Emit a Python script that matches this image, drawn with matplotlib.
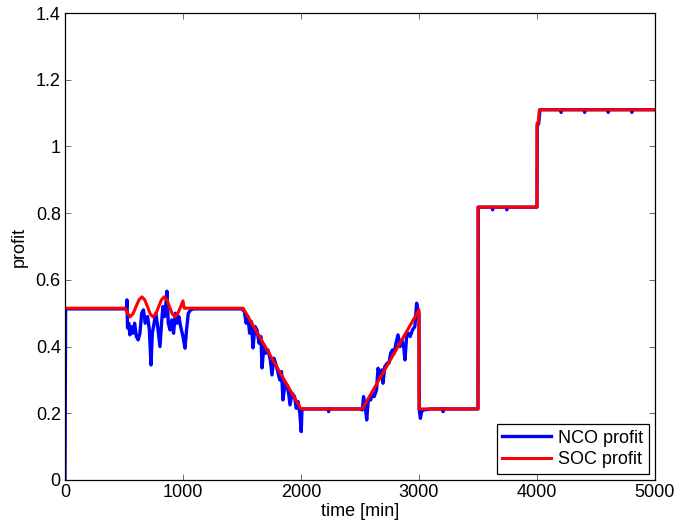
import matplotlib
matplotlib.use('Agg')
import matplotlib.pyplot as plt
import matplotlib.ticker as tck

# NCO profit (blue), sampled by hand off the reference
nco_time = [0, 5, 500, 520, 525, 530, 540, 550, 560, 575, 590, 605, 620, 635, 650,
            665, 680, 700, 715, 729, 740, 755, 770, 785, 805, 818, 830, 845, 864,
            875, 890, 905, 920, 935, 950, 965, 980, 1000, 1017, 1030, 1045, 1065, 1090,
            1500, 1520, 1535, 1550, 1565, 1580, 1593, 1610, 1627, 1645, 1660, 1670,
            1685, 1700, 1720, 1740, 1754, 1770, 1780, 1800, 1820, 1835, 1847, 1865,
            1880, 1895, 1907, 1925, 1945, 1960, 1975, 1990, 2002, 2008, 2015,
            2230, 2234, 2238, 2500, 2520, 2530, 2545, 2557, 2570, 2590, 2605, 2620, 2640,
            2653, 2670, 2685, 2695, 2710, 2730, 2745, 2760, 2775, 2790, 2805, 2822,
            2840, 2855, 2870, 2881, 2895, 2910, 2925, 2945, 2965, 2980, 2992, 3000,
            3002, 3012, 3022, 3040, 3100, 3200, 3204, 3208, 3500, 3502, 3620, 3624,
            3628, 3740, 3744, 3748, 3990, 4000, 4002, 4015, 4025, 4200, 4204, 4208,
            4400, 4404, 4408, 4600, 4604, 4608, 4800, 4804, 4808, 5000]
nco_profit = [0, 0.513, 0.513, 0.513, 0.54, 0.456, 0.47, 0.435, 0.46, 0.44, 0.47, 0.43,
              0.42, 0.44, 0.50, 0.51, 0.47, 0.49, 0.45, 0.345, 0.44, 0.47, 0.50, 0.46,
              0.40, 0.47, 0.52, 0.49, 0.566, 0.47, 0.45, 0.48, 0.44, 0.50, 0.47, 0.49,
              0.46, 0.43, 0.395, 0.45, 0.50, 0.51, 0.513,
              0.513, 0.505, 0.47, 0.49, 0.44, 0.475, 0.396, 0.46, 0.45, 0.41, 0.43,
              0.336, 0.40, 0.38, 0.39, 0.36, 0.315, 0.365, 0.355, 0.33, 0.30, 0.325,
              0.24, 0.29, 0.285, 0.26, 0.225, 0.26, 0.25, 0.215, 0.235, 0.20, 0.145,
              0.21, 0.213,
              0.213, 0.205, 0.213, 0.213, 0.21, 0.25, 0.22, 0.18, 0.24, 0.24, 0.26, 0.25,
              0.27, 0.335, 0.31, 0.33, 0.29, 0.34, 0.35, 0.35, 0.38, 0.39, 0.38, 0.41,
              0.435, 0.40, 0.42, 0.40, 0.36, 0.43, 0.44, 0.43, 0.45, 0.46, 0.53, 0.51,
              0.50, 0.21, 0.185, 0.205, 0.21, 0.213, 0.213, 0.205, 0.213, 0.213, 0.818,
              0.818, 0.81, 0.818, 0.818, 0.81, 0.818, 0.818, 0.818, 1.06, 1.07, 1.11,
              1.11, 1.102, 1.11, 1.11, 1.102, 1.11, 1.11, 1.102, 1.11, 1.11, 1.102,
              1.11, 1.11]

# SOC profit (red)
soc_time = [0, 508, 530, 551, 576, 601, 627, 652, 676, 700, 722, 745, 770, 793, 817,
            840, 863, 886, 909, 932, 955, 975, 1000, 1010, 1510, 2000, 2520, 3000,
            3000, 3500, 3500, 4000, 4000, 4010, 4020, 5000]
soc_profit = [0.515, 0.515, 0.500, 0.489, 0.498, 0.519, 0.540, 0.549, 0.540, 0.519,
              0.498, 0.489, 0.498, 0.519, 0.540, 0.549, 0.540, 0.519, 0.498, 0.489,
              0.498, 0.515, 0.537, 0.515, 0.515, 0.213, 0.213, 0.51,
              0.213, 0.213, 0.818, 0.818, 1.07, 1.07, 1.11, 1.11]

x_ticks = [0, 1000, 2000, 3000, 4000, 5000]
y_ticks = [0, 0.2, 0.4, 0.6, 0.8, 1.0, 1.2, 1.4]

plt.rcParams['font.family'] = ['Liberation Sans', 'DejaVu Sans']
plt.rcParams['font.size'] = 13

fig = plt.figure(figsize=(6.78, 5.29), dpi=100)
ax = fig.add_axes([65 / 678, 1 - 480 / 529, 590 / 678, 467 / 529])

ax.plot(nco_time, nco_profit, color='#0000ff', lw=2.4, label='NCO profit')
ax.plot(soc_time, soc_profit, color='#ff0000', lw=2.2, label='SOC profit')

ax.set_xlim(0, 5000)
ax.set_ylim(0, 1.4)
ax.set_xticks(x_ticks)
ax.set_yticks(y_ticks)
ax.yaxis.set_major_formatter(tck.FormatStrFormatter('%g'))
ax.tick_params(direction='in', top=True, right=True, length=4, width=0.6,
               color='#555555', pad=3)
for spine in ax.spines.values():
    spine.set_linewidth(0.9)

ax.set_xlabel('time [min]', labelpad=1)
ax.set_ylabel('profit', labelpad=6)

leg = ax.legend(loc='lower right', fancybox=False, framealpha=1, edgecolor='black',
                handlelength=2.7, borderaxespad=0.35, borderpad=0.3,
                labelspacing=0.25, handletextpad=0.4)
leg.get_frame().set_linewidth(0.9)

fig.savefig('out.png', dpi=100)
